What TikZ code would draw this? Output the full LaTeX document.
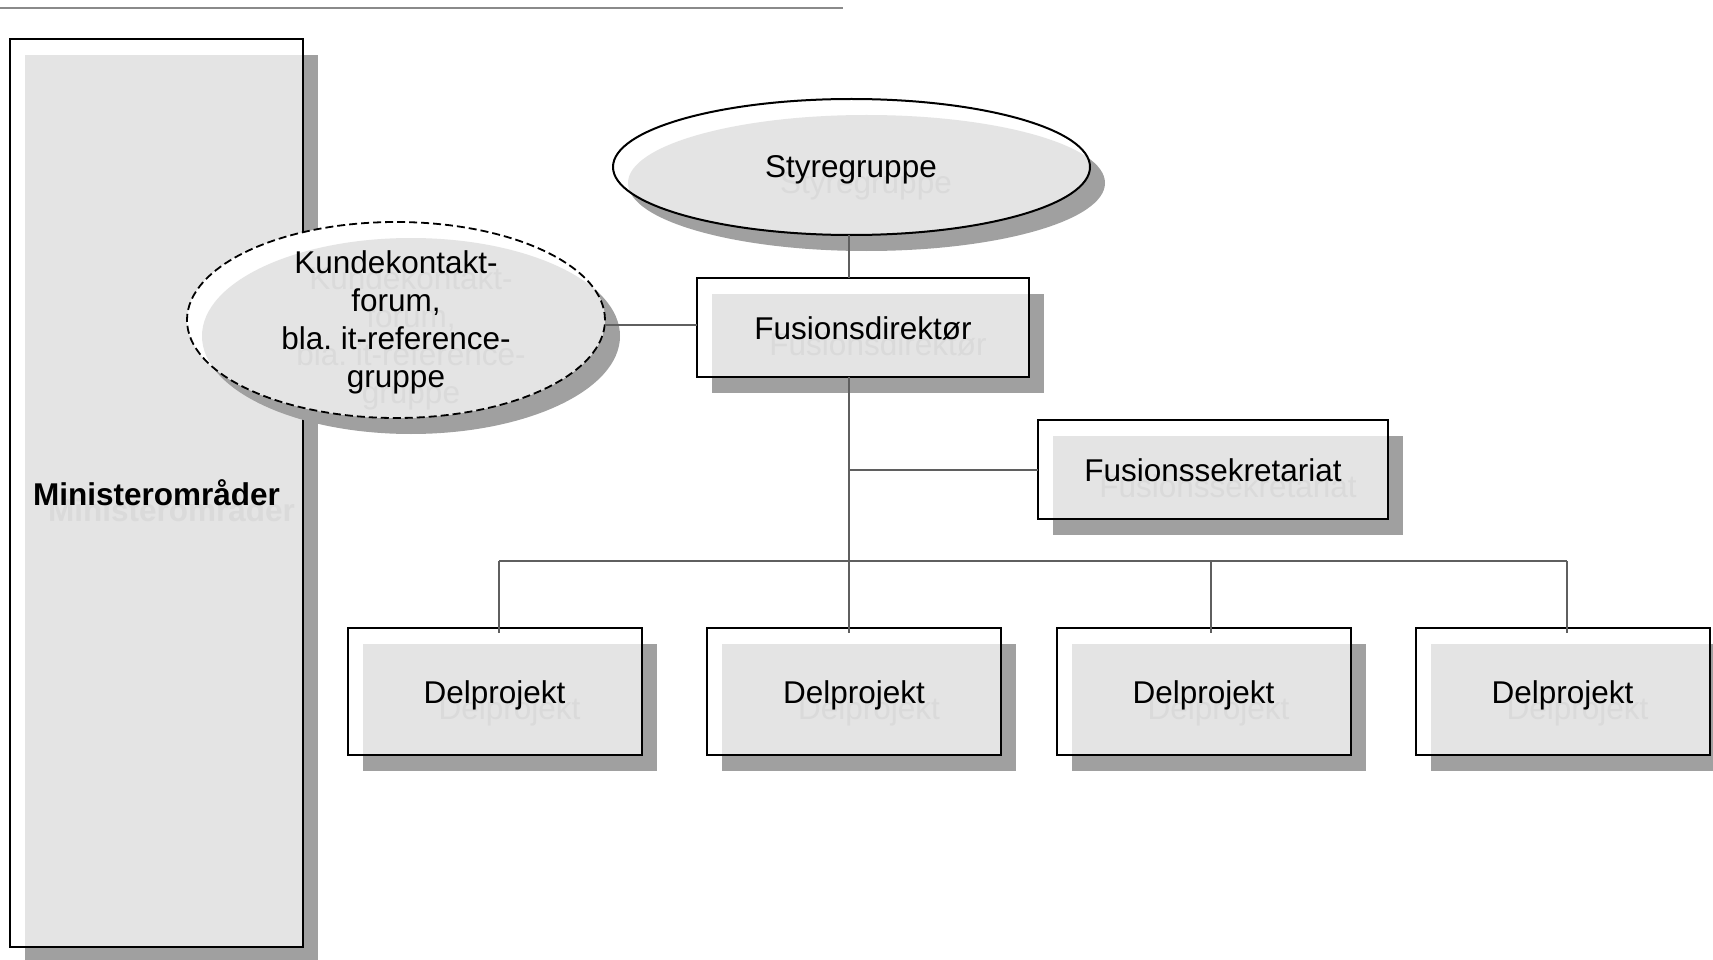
\documentclass[tikz,border=0pt]{standalone}
\usepackage{fontspec}
\setmainfont{Liberation Sans}
\usetikzlibrary{shapes.geometric,calc}
\definecolor{shd}{HTML}{A0A0A0}
\definecolor{lightg}{HTML}{E4E4E4}
\definecolor{ghostc}{HTML}{DADADA}
\definecolor{connc}{HTML}{5F5F5F}
\definecolor{rulec}{HTML}{8A8A8A}
\frenchspacing
\tikzset{
  shbox/.style={rectangle, fill=shd, draw=none, inner sep=0pt, outer sep=0pt},
  wbox/.style={rectangle, fill=white, draw=none, inner sep=0pt, outer sep=0pt},
  shell/.style={ellipse, fill=shd, draw=none, inner sep=0pt, outer sep=0pt},
  well/.style={ellipse, fill=white, draw=none, inner sep=0pt, outer sep=0pt},
  outl/.style={draw=black, line width=2pt},
  dashoutl/.style={draw=black, line width=1.8pt, dash pattern=on 8pt off 4pt},
  lbl/.style={anchor=base, inner sep=0pt, outer sep=0pt, align=center, text=black,
    font=\fontsize{31.5}{38}\selectfont},
  ghost/.style={lbl, text=ghostc},
  conn/.style={draw=connc, line width=2pt},
}
\newcommand\orgbox[7]{%
  \node[shbox, minimum width=#4pt, minimum height=#5pt] (#1-s) at (#2+15,#3+16) {};
  \node[wbox, minimum width=#4pt, minimum height=#5pt] (#1) at (#2,#3) {};
  \fill[lightg] (#1-s.north west) rectangle (#1.south east);
  \node[ghost] (#1-g) at (#2+15,#3+16+#7) {#6};
  \node[lbl] (#1-t) at (#2,#3+#7) {#6};
  \draw[outl] (#1.north west) rectangle (#1.south east);
}
\begin{document}
\begin{tikzpicture}[x=1pt,y=-1pt]
\useasboundingbox (0,0) rectangle (1713,960);
% top rule
\coordinate (r0) at (0,8);
\coordinate (r1) at (843,8);
\draw[draw=rulec, line width=2.2pt] (r0) -- (r1);

% Ministeromraader
\orgbox{mo}{156.5}{493.25}{293}{907.5}{\bfseries Ministerområder}{12.5}

% Styregruppe
\node[shell, minimum width=477pt, minimum height=136pt] (sg-s) at (851.5+15,167+16) {};
\node[well, minimum width=477pt, minimum height=136pt] (sg) at (851.5,167) {};
\begin{scope}
  \clip (851.5,167) ellipse [x radius=238.5pt, y radius=68pt];
  \fill[lightg] (851.5+15,167+16) ellipse [x radius=238.5pt, y radius=68pt];
\end{scope}
\node[ghost] (sg-g) at (851+15,178+16) {Styregruppe};
\node[lbl] (sg-t) at (851,178) {Styregruppe};
\draw[outl] (851.5,167) ellipse [x radius=238.5pt, y radius=68pt];

% boxes
\orgbox{fd}{863}{327.5}{332}{99}{Fusionsdirektør}{11.5}
\orgbox{fs}{1213}{469.5}{350}{99}{Fusionssekretariat}{11.5}
\orgbox{dp1}{494.5}{691.5}{294}{127}{Delprojekt}{11.5}
\orgbox{dp2}{854}{691.5}{294}{127}{Delprojekt}{11.5}
\orgbox{dp3}{1203.5}{691.5}{294}{127}{Delprojekt}{11.5}
\orgbox{dp4}{1562.5}{691.5}{294}{127}{Delprojekt}{11.5}

% Kundekontaktforum
\node[shell, minimum width=418pt, minimum height=196pt] (kf-s) at (396+15,320+16) {};
\node[well, minimum width=418pt, minimum height=196pt] (kf) at (396,320) {};
\begin{scope}
  \clip (396,320) ellipse [x radius=209pt, y radius=98pt];
  \fill[lightg] (396+15,320+16) ellipse [x radius=209pt, y radius=98pt];
\end{scope}
\node[ghost] (kf-g) at (396+15,387+16) {Kundekontakt-\\forum,\\bla. it-reference-\\gruppe};
\node[lbl] (kf-t) at (396,387) {Kundekontakt-\\forum,\\bla. it-reference-\\gruppe};
\draw[dashoutl] (396,320) ellipse [x radius=209pt, y radius=98pt];

% connectors
\coordinate (vtop) at ($(sg.south)+(-2.5,0)$);
\draw[conn] (vtop) -- (vtop |- fd.north);
\draw[conn] (vtop |- fd.south) -- ($(vtop |- dp2.north)+(0,5)$);
\draw[conn] (vtop |- fs.west) -- (fs.west);
\coordinate (kc) at ($(kf.east)+(0,5)$);
\draw[conn] (kc) -- (kc -| fd.west);
\coordinate (b1) at (499,561);
\coordinate (b3) at (1211,561);
\coordinate (b4) at (1567,561);
\draw[conn] (b1) -- (b4);
\draw[conn] (b1) -- ($(b1 |- dp1.north)+(0,5)$);
\draw[conn] (b3) -- ($(b3 |- dp3.north)+(0,5)$);
\draw[conn] (b4) -- ($(b4 |- dp4.north)+(0,5)$);
\end{tikzpicture}
\end{document}
